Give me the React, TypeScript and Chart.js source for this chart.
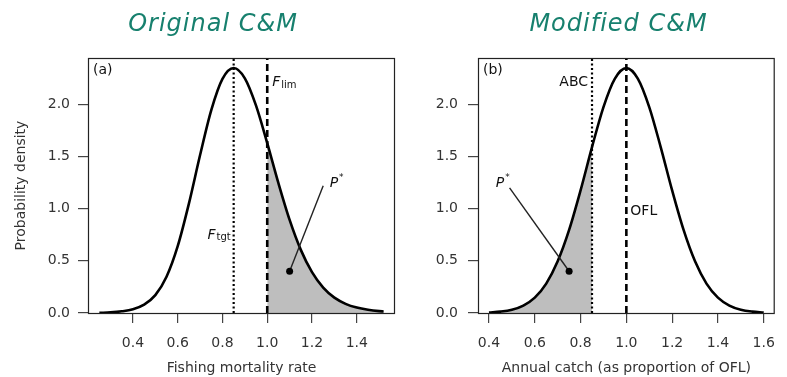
import { useEffect, useRef } from "react";
import { Chart, registerables } from "chart.js";

Chart.register(...registerables);

// (a) Fishing mortality rate and its probability density
const mortalityRates = [
  0.25, 0.3, 0.35, 0.4, 0.45, 0.5, 0.55, 0.6, 0.65, 0.7, 0.75, 0.8, 0.85, 0.9,
  0.95, 1.0, 1.05, 1.1, 1.15, 1.2, 1.25, 1.3, 1.35, 1.4, 1.45, 1.5, 1.52,
];
const mortalityDensity = [
  0.002, 0.006, 0.016, 0.036, 0.08, 0.171, 0.347, 0.64, 1.048, 1.514, 1.945,
  2.244, 2.348, 2.249, 1.987, 1.628, 1.244, 0.892, 0.605, 0.391, 0.243, 0.147,
  0.088, 0.052, 0.031, 0.018, 0.015,
];

// (b) Annual catch (as a proportion of OFL) and its probability density
const catchProportions = [
  0.4, 0.45, 0.5, 0.55, 0.6, 0.65, 0.7, 0.75, 0.8, 0.85, 0.9, 0.95, 1.0, 1.05,
  1.1, 1.15, 1.2, 1.25, 1.3, 1.35, 1.4, 1.45, 1.5, 1.55, 1.6,
];
const catchDensity = [
  0.005, 0.013, 0.031, 0.071, 0.147, 0.282, 0.495, 0.796, 1.175, 1.59, 1.974,
  2.247, 2.347, 2.247, 1.974, 1.59, 1.175, 0.796, 0.495, 0.282, 0.147, 0.071,
  0.031, 0.013, 0.005,
];

const mortalityTicks = [0.4, 0.6, 0.8, 1.0, 1.2, 1.4];
const catchTicks = [0.4, 0.6, 0.8, 1.0, 1.2, 1.4, 1.6];
const densityTicks = [0, 0.5, 1.0, 1.5, 2.0];

// Reference points
const fTarget = 0.85;
const fLimit = 1.0;
const abc = 0.85;
const ofl = 1.0;

// P* pointers: [x, y] of the dot and of the leader's upper end
const pStarDotA = [1.1, 0.4];
const pStarLeaderA = [1.25, 1.22];
const pStarDotB = [0.75, 0.4];
const pStarLeaderB = [0.49, 1.2];

const densityMax = 2.444;

const FONT = '"DejaVu Sans", "Liberation Sans", sans-serif';
const INK = "#000";
const AXIS_INK = "#333";
const SHADE = "#bebebe";
const TITLE_COLOR = "#17806e";

type Label = {
  text: string;
  sub?: string;
  sup?: string;
  italic?: boolean;
  x: number;
  y: number;
  dx: number;
  align: "left" | "right" | "center";
};

type PanelSpec = {
  title: string;
  titleX: number;
  tag: string;
  xs: number[];
  ys: number[];
  shadeFrom: number;
  shadeTo: number;
  xMin: number;
  xMax: number;
  xTicks: number[];
  xTitle: string;
  yTitle?: string;
  yAxisWidth: number;
  yTickPad: number;
  padRight: number;
  width: number;
  dotted: number;
  dashed: number;
  dot: number[];
  leader: number[];
  labels: Label[];
};

function drawLabel(ctx: CanvasRenderingContext2D, m: Label, xs: any, ys: any) {
  const px = xs.getPixelForValue(m.x) + m.dx;
  const py = ys.getPixelForValue(m.y);
  const mainFont = `${m.italic ? "italic " : ""}14px ${FONT}`;
  ctx.font = mainFont;
  const wMain = ctx.measureText(m.text).width;
  let wExtra = 0;
  if (m.sub) {
    ctx.font = `10px ${FONT}`;
    wExtra = ctx.measureText(m.sub).width + 1;
  }
  if (m.sup) {
    ctx.font = `9px ${FONT}`;
    wExtra = ctx.measureText(m.sup).width + 1;
  }
  const total = wMain + wExtra;
  const x0 =
    m.align === "left" ? px : m.align === "right" ? px - total : px - total / 2;
  ctx.textAlign = "left";
  ctx.textBaseline = "alphabetic";
  ctx.fillStyle = "#111";
  ctx.font = mainFont;
  ctx.fillText(m.text, x0, py);
  if (m.sub) {
    ctx.font = `10px ${FONT}`;
    ctx.fillText(m.sub, x0 + wMain + 1, py + 1.5);
  }
  if (m.sup) {
    ctx.font = `9px ${FONT}`;
    ctx.fillText(m.sup, x0 + wMain + 1, py - 7);
  }
}

function decorPlugin(p: PanelSpec) {
  return {
    id: "panelDecor",
    afterDraw(chart: any) {
      const { ctx, chartArea: a, scales } = chart;
      const xs = scales.x;
      const ys = scales.y;
      ctx.save();
      // plot frame
      ctx.strokeStyle = "#222";
      ctx.lineWidth = 1.2;
      ctx.strokeRect(a.left + 0.5, a.top + 0.5, a.right - a.left - 1, a.bottom - a.top);

      // panel heading
      ctx.fillStyle = TITLE_COLOR;
      ctx.font = `italic 24px ${FONT}`;
      (ctx as any).letterSpacing = "1px";
      ctx.textAlign = "center";
      ctx.textBaseline = "alphabetic";
      ctx.fillText(p.title, p.titleX, 31);
      (ctx as any).letterSpacing = "0px";

      // panel tag
      ctx.fillStyle = "#111";
      ctx.font = `14px ${FONT}`;
      ctx.textAlign = "left";
      ctx.fillText(p.tag, a.left + 5, a.top + 16);

      // axis titles
      ctx.fillStyle = AXIS_INK;
      ctx.font = `14px ${FONT}`;
      ctx.textAlign = "center";
      ctx.fillText(p.xTitle, (a.left + a.right) / 2, 372);
      if (p.yTitle) {
        ctx.save();
        ctx.translate(21.5, (a.top + a.bottom) / 2);
        ctx.rotate(-Math.PI / 2);
        ctx.textBaseline = "middle";
        ctx.fillText(p.yTitle, 0, 0);
        ctx.restore();
      }

      for (const m of p.labels) drawLabel(ctx, m, xs, ys);
      ctx.restore();
    },
  };
}

function Panel({ spec, left }: { spec: PanelSpec; left: number }) {
  const ref = useRef<HTMLCanvasElement | null>(null);

  useEffect(() => {
    if (!ref.current) return;
    const p = spec;
    const curve = p.xs.map((x, i) => ({ x, y: p.ys[i] }));
    const shaded = curve.filter((pt) => pt.x >= p.shadeFrom && pt.x <= p.shadeTo);
    const vertical = (x: number) => [
      { x, y: 0 },
      { x, y: densityMax },
    ];

    const chart = new Chart(ref.current, {
      type: "line",
      data: {
        datasets: [
          {
            data: shaded,
            borderWidth: 0,
            borderColor: "rgba(0,0,0,0)",
            backgroundColor: SHADE,
            fill: "origin",
            cubicInterpolationMode: "monotone",
            pointRadius: 0,
            order: 6,
          },
          {
            data: curve,
            borderColor: INK,
            borderWidth: 2.6,
            fill: false,
            cubicInterpolationMode: "monotone",
            pointRadius: 0,
            order: 4,
          },
          {
            data: [
              { x: p.dot[0], y: p.dot[1] },
              { x: p.leader[0], y: p.leader[1] },
            ],
            borderColor: "#222",
            borderWidth: 1.4,
            fill: false,
            pointRadius: 0,
            order: 3,
          },
          {
            data: vertical(p.dotted),
            borderColor: INK,
            borderWidth: 2.2,
            borderDash: [2, 2.5],
            fill: false,
            pointRadius: 0,
            order: 2,
          },
          {
            data: vertical(p.dashed),
            borderColor: INK,
            borderWidth: 2.6,
            borderDash: [7, 4],
            fill: false,
            pointRadius: 0,
            order: 2,
          },
          {
            data: [{ x: p.dot[0], y: p.dot[1] }],
            showLine: false,
            pointRadius: 3.5,
            pointBackgroundColor: INK,
            pointBorderColor: INK,
            pointBorderWidth: 0,
            order: 1,
          },
        ],
      },
      options: {
        animation: false,
        responsive: false,
        devicePixelRatio: 1,
        layout: { padding: { top: 58, right: p.padRight, left: 0, bottom: 0 } },
        plugins: {
          legend: { display: false },
          tooltip: { enabled: false },
          title: { display: false },
        },
        scales: {
          x: {
            type: "linear",
            min: p.xMin,
            max: p.xMax,
            afterFit: (s: any) => {
              s.height = 64;
            },
            afterBuildTicks: (s: any) => {
              s.ticks = p.xTicks.map((v) => ({ value: v }));
            },
            ticks: {
              callback: (v: any) => Number(v).toFixed(1),
              font: { family: FONT, size: 14 },
              color: AXIS_INK,
              padding: 12,
              maxRotation: 0,
              autoSkip: false,
            },
            grid: {
              display: true,
              drawOnChartArea: false,
              drawTicks: true,
              tickLength: 10,
              color: "#444",
              lineWidth: 1.2,
            },
            border: { display: false },
          },
          y: {
            type: "linear",
            min: 0,
            max: densityMax,
            afterFit: (s: any) => {
              s.width = p.yAxisWidth;
            },
            afterBuildTicks: (s: any) => {
              s.ticks = densityTicks.map((v) => ({ value: v }));
            },
            ticks: {
              callback: (v: any) => Number(v).toFixed(1),
              font: { family: FONT, size: 14 },
              color: AXIS_INK,
              padding: p.yTickPad,
              autoSkip: false,
            },
            grid: {
              display: true,
              drawOnChartArea: false,
              drawTicks: true,
              tickLength: 10,
              color: "#444",
              lineWidth: 1.2,
            },
            border: { display: false },
          },
        },
      },
      plugins: [decorPlugin(p)],
    } as any);

    return () => chart.destroy();
  }, [spec]);

  return (
    <canvas
      ref={ref}
      width={spec.width}
      height={377}
      style={{ position: "absolute", left, top: 0, width: spec.width, height: 377 }}
    />
  );
}

const panelA: PanelSpec = {
  title: "Original C&M",
  titleX: 213,
  tag: "(a)",
  xs: mortalityRates,
  ys: mortalityDensity,
  shadeFrom: fLimit,
  shadeTo: Infinity,
  xMin: 0.1992,
  xMax: 1.5708,
  xTicks: mortalityTicks,
  xTitle: "Fishing mortality rate",
  yTitle: "Probability density",
  yAxisWidth: 88,
  yTickPad: 8,
  padRight: 5,
  width: 400,
  dotted: fTarget,
  dashed: fLimit,
  dot: pStarDotA,
  leader: pStarLeaderA,
  labels: [
    { text: "F", sub: "lim", italic: true, x: fLimit, y: 2.175, dx: 5, align: "left" },
    { text: "F", sub: "tgt", italic: true, x: fTarget, y: 0.712, dx: -3, align: "right" },
    { text: "P", sup: "*", italic: true, x: 1.31, y: 1.21, dx: 0, align: "center" },
  ],
};

const panelB: PanelSpec = {
  title: "Modified C&M",
  titleX: 218.5,
  tag: "(b)",
  xs: catchProportions,
  ys: catchDensity,
  shadeFrom: -Infinity,
  shadeTo: abc,
  xMin: 0.352,
  xMax: 1.648,
  xTicks: catchTicks,
  xTitle: "Annual catch (as proportion of OFL)",
  yAxisWidth: 78,
  yTickPad: 10,
  padRight: 2,
  width: 387,
  dotted: abc,
  dashed: ofl,
  dot: pStarDotB,
  leader: pStarLeaderB,
  labels: [
    { text: "ABC", x: abc, y: 2.175, dx: -4, align: "right" },
    { text: "OFL", x: ofl, y: 0.937, dx: 4, align: "left" },
    { text: "P", sup: "*", italic: true, x: 0.46, y: 1.21, dx: 0, align: "center" },
  ],
};

export default function App() {
  useEffect(() => {
    document.body.style.margin = "0";
  }, []);
  return (
    <div style={{ position: "relative", width: 787, height: 377, background: "#fff" }}>
      <Panel spec={panelA} left={0} />
      <Panel spec={panelB} left={400} />
    </div>
  );
}
